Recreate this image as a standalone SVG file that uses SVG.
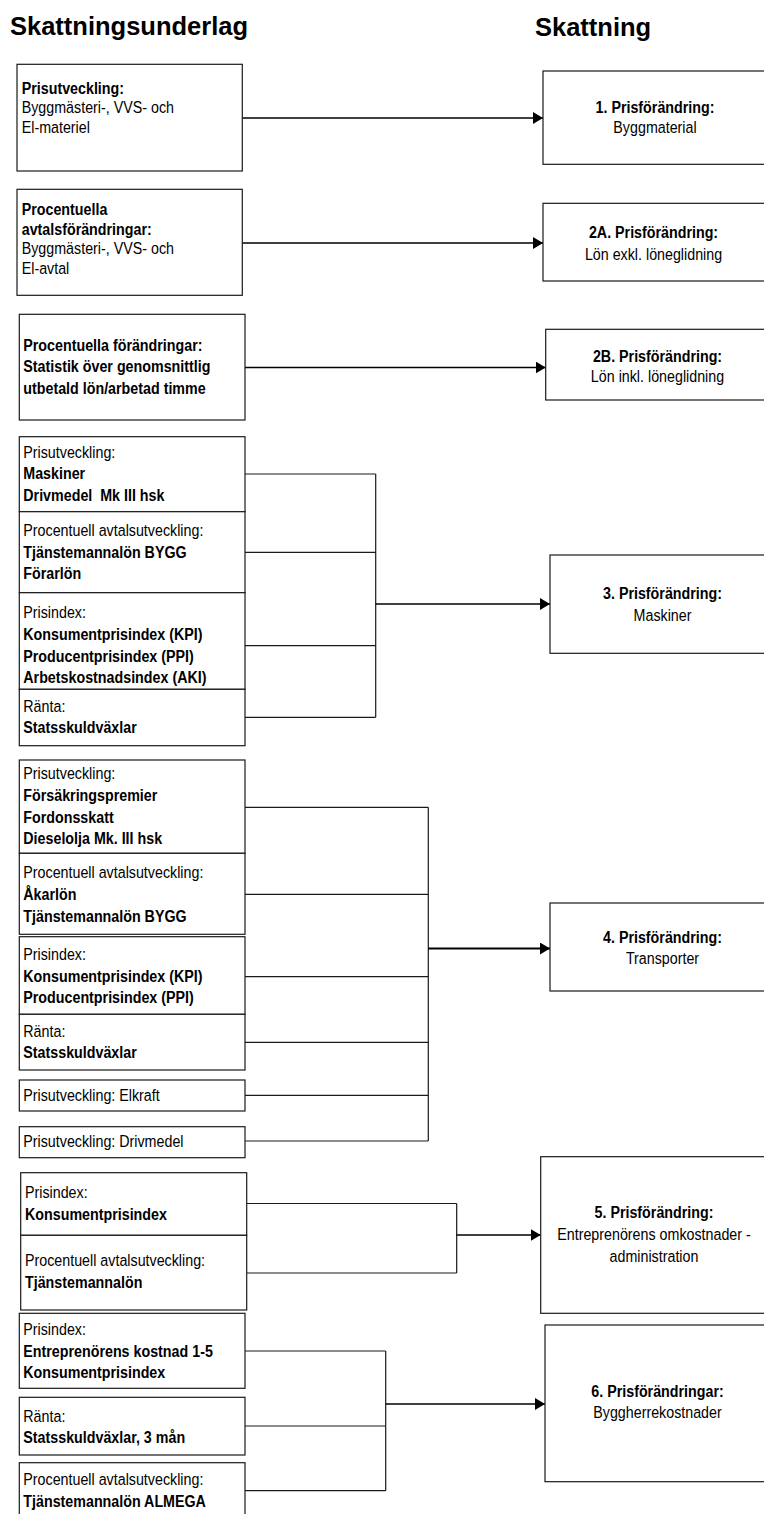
<svg xmlns="http://www.w3.org/2000/svg" width="764" height="1514" viewBox="0 0 764 1514">
<style>
.bg{fill:#fff}
.box{fill:#fff;stroke:#1a1a1a;stroke-width:1.2}
.t{font-family:"Liberation Sans",Arial,sans-serif;font-size:17px;fill:#000}
.b{font-weight:bold}
.c{text-anchor:middle}
.h{font-family:"Liberation Sans",Arial,sans-serif;font-size:25.5px;font-weight:bold;fill:#000}
.ln{fill:none;stroke:#1a1a1a;stroke-width:1.2}
.out{fill:none;stroke:#000;stroke-width:1.6}
</style>
<defs>
<marker id="ah" markerUnits="userSpaceOnUse" markerWidth="11" markerHeight="12" refX="10" refY="6" orient="auto">
<path d="M0,0 L10,6 L0,12 z" fill="#000"/>
</marker>
</defs>
<rect class="bg" x="0" y="0" width="764" height="1514"/>
<g id="titles">
<text class="h" x="10" y="34.5">Skattningsunderlag</text>
<text class="h" x="535" y="35.5">Skattning</text>
</g>

<g id="connectors">
<path class="out" d="M242,118 H543" marker-end="url(#ah)"/>
<path class="out" d="M242,243 H543" marker-end="url(#ah)"/>
<path class="out" d="M245,367.5 H545.7" marker-end="url(#ah)"/>
<path class="ln" d="M245,474 H375.7 M245,552.3 H375.7 M245,645.7 H375.7 M245,717.3 H375.7 M375.7,474 V717.3"/>
<path class="out" d="M375.7,604 H550" marker-end="url(#ah)"/>
<path class="ln" d="M245,807.3 H428.3 M245,894.3 H428.3 M245,976.7 H428.3 M245,1042.3 H428.3 M245,1095.3 H428.3 M245,1141 H428.3 M428.3,807.3 V1141"/>
<path class="out" style="stroke-width:2" d="M428.3,948.5 H550" marker-end="url(#ah)"/>
<path class="ln" d="M246.7,1203.5 H456.7 M246.7,1273 H456.7 M456.7,1203.5 V1273"/>
<path class="out" d="M456.7,1235 H540.7" marker-end="url(#ah)"/>
<path class="ln" d="M245,1351 H385.7 M245,1426 H385.7 M245,1490.7 H385.7 M385.7,1351 V1490.7"/>
<path class="out" d="M385.7,1404 H545" marker-end="url(#ah)"/>
</g>

<g id="src1">
<rect class="box" x="17" y="64.3" width="225.3" height="106.7"/>
<text class="t" transform="translate(21.7,94) scale(0.84,1)"><tspan class="b" x="0" y="0">Prisutveckling:</tspan><tspan x="0" y="19.5">Byggmästeri-, VVS- och</tspan><tspan x="0" y="39">El-materiel</tspan></text>
</g>
<g id="src2">
<rect class="box" x="17" y="189.3" width="225.3" height="106"/>
<text class="t" transform="translate(21.7,215) scale(0.84,1)"><tspan class="b" x="0" y="0">Procentuella</tspan><tspan class="b" x="0" y="19.7">avtalsförändringar:</tspan><tspan x="0" y="39.4">Byggmästeri-, VVS- och</tspan><tspan x="0" y="59">El-avtal</tspan></text>
</g>
<g id="src2b">
<rect class="box" x="19.3" y="314.3" width="225.7" height="105.7"/>
<text class="t b" transform="translate(23.3,350.7) scale(0.84,1)"><tspan x="0" y="0">Procentuella förändringar:</tspan><tspan x="0" y="21.8">Statistik över genomsnittlig</tspan><tspan x="0" y="43.6">utbetald lön/arbetad timme</tspan></text>
</g>

<g id="src3">
<rect class="box" x="19.3" y="436.7" width="225.7" height="75"/>
<rect class="box" x="19.3" y="511.7" width="225.7" height="81"/>
<rect class="box" x="19.3" y="592.7" width="225.7" height="96.6"/>
<rect class="box" x="19.3" y="689.3" width="225.7" height="56.4"/>
<text class="t" xml:space="preserve" transform="translate(23.3,457.7) scale(0.84,1)"><tspan x="0" y="0">Prisutveckling:</tspan><tspan class="b" x="0" y="21.8">Maskiner</tspan><tspan class="b" x="0" y="43.6">Drivmedel  Mk III hsk</tspan></text>
<text class="t" transform="translate(23.3,536) scale(0.84,1)"><tspan x="0" y="0">Procentuell avtalsutveckling:</tspan><tspan class="b" x="0" y="21.7">Tjänstemannalön BYGG</tspan><tspan class="b" x="0" y="43.4">Förarlön</tspan></text>
<text class="t" transform="translate(23.3,618.3) scale(0.84,1)"><tspan x="0" y="0">Prisindex:</tspan><tspan class="b" x="0" y="21.7">Konsumentprisindex (KPI)</tspan><tspan class="b" x="0" y="43.4">Producentprisindex (PPI)</tspan><tspan class="b" x="0" y="65.1">Arbetskostnadsindex (AKI)</tspan></text>
<text class="t" transform="translate(23.3,711.7) scale(0.84,1)"><tspan x="0" y="0">Ränta:</tspan><tspan class="b" x="0" y="21.7">Statsskuldväxlar</tspan></text>
</g>

<g id="src4">
<rect class="box" x="19.3" y="760" width="225.7" height="93.3"/>
<rect class="box" x="19.3" y="853.3" width="225.7" height="81"/>
<rect class="box" x="19.3" y="936.7" width="225.7" height="77.6"/>
<rect class="box" x="19.3" y="1014.3" width="225.7" height="55.7"/>
<rect class="box" x="19.3" y="1080" width="225.7" height="31"/>
<rect class="box" x="19.3" y="1126.7" width="225.7" height="31"/>
<text class="t" transform="translate(23.3,779.3) scale(0.84,1)"><tspan x="0" y="0">Prisutveckling:</tspan><tspan class="b" x="0" y="21.7">Försäkringspremier</tspan><tspan class="b" x="0" y="43.4">Fordonsskatt</tspan><tspan class="b" x="0" y="65.1">Dieselolja Mk. III hsk</tspan></text>
<text class="t" transform="translate(23.3,878.3) scale(0.84,1)"><tspan x="0" y="0">Procentuell avtalsutveckling:</tspan><tspan class="b" x="0" y="21.7">Åkarlön</tspan><tspan class="b" x="0" y="43.4">Tjänstemannalön BYGG</tspan></text>
<text class="t" transform="translate(23.3,960) scale(0.84,1)"><tspan x="0" y="0">Prisindex:</tspan><tspan class="b" x="0" y="21.7">Konsumentprisindex (KPI)</tspan><tspan class="b" x="0" y="43.4">Producentprisindex (PPI)</tspan></text>
<text class="t" transform="translate(23.3,1037.3) scale(0.84,1)"><tspan x="0" y="0">Ränta:</tspan><tspan class="b" x="0" y="21.2">Statsskuldväxlar</tspan></text>
<text class="t" transform="translate(23.3,1100.7) scale(0.84,1)">Prisutveckling: Elkraft</text>
<text class="t" transform="translate(23.3,1147.3) scale(0.84,1)">Prisutveckling: Drivmedel</text>
</g>

<g id="src5">
<rect class="box" x="20.7" y="1172.7" width="226" height="62.6"/>
<rect class="box" x="20.7" y="1235.3" width="226" height="74.7"/>
<text class="t" transform="translate(25,1198.3) scale(0.84,1)"><tspan x="0" y="0">Prisindex:</tspan><tspan class="b" x="0" y="21.7">Konsumentprisindex</tspan></text>
<text class="t" transform="translate(25,1266) scale(0.84,1)"><tspan x="0" y="0">Procentuell avtalsutveckling:</tspan><tspan class="b" x="0" y="21.7">Tjänstemannalön</tspan></text>
</g>

<g id="src6">
<rect class="box" x="19.3" y="1313.3" width="225.7" height="75"/>
<rect class="box" x="19.3" y="1397.3" width="225.7" height="57.7"/>
<rect class="box" x="19.3" y="1462.7" width="225.7" height="60"/>
<text class="t" transform="translate(23.3,1335) scale(0.84,1)"><tspan x="0" y="0">Prisindex:</tspan><tspan class="b" x="0" y="21.7">Entreprenörens kostnad 1-5</tspan><tspan class="b" x="0" y="43.4">Konsumentprisindex</tspan></text>
<text class="t" transform="translate(23.3,1421.7) scale(0.84,1)"><tspan x="0" y="0">Ränta:</tspan><tspan class="b" x="0" y="21">Statsskuldväxlar, 3 mån</tspan></text>
<text class="t" transform="translate(23.3,1485) scale(0.84,1)"><tspan x="0" y="0">Procentuell avtalsutveckling:</tspan><tspan class="b" x="0" y="21.7">Tjänstemannalön ALMEGA</tspan></text>
</g>

<g id="est1">
<rect class="box" x="543" y="71" width="240" height="93.3"/>
<text class="t c" transform="translate(655,113) scale(0.84,1)"><tspan class="b" x="0" y="0">1. Prisförändring:</tspan><tspan x="0" y="20.3">Byggmaterial</tspan></text>
</g>
<g id="est2a">
<rect class="box" x="543" y="203.3" width="240" height="77.7"/>
<text class="t c" transform="translate(653.5,238.3) scale(0.84,1)"><tspan class="b" x="0" y="0">2A. Prisförändring:</tspan><tspan x="0" y="21.7">Lön exkl. löneglidning</tspan></text>
</g>
<g id="est2b">
<rect class="box" x="545.7" y="329.3" width="240" height="70.7"/>
<text class="t c" transform="translate(657.5,361.7) scale(0.84,1)"><tspan class="b" x="0" y="0">2B. Prisförändring:</tspan><tspan x="0" y="20.5">Lön inkl. löneglidning</tspan></text>
</g>
<g id="est3">
<rect class="box" x="550" y="555" width="240" height="98.3"/>
<text class="t c" transform="translate(662.5,599.3) scale(0.84,1)"><tspan class="b" x="0" y="0">3. Prisförändring:</tspan><tspan x="0" y="21.7">Maskiner</tspan></text>
</g>
<g id="est4">
<rect class="box" x="550" y="903" width="240" height="88"/>
<text class="t c" transform="translate(662.5,943.3) scale(0.84,1)"><tspan class="b" x="0" y="0">4. Prisförändring:</tspan><tspan x="0" y="20.7">Transporter</tspan></text>
</g>
<g id="est5">
<rect class="box" x="540.7" y="1156.7" width="240" height="156.6"/>
<text class="t c" transform="translate(654,1218.3) scale(0.84,1)"><tspan class="b" x="0" y="0">5. Prisförändring:</tspan><tspan x="0" y="21.7">Entreprenörens omkostnader -</tspan><tspan x="0" y="43.4">administration</tspan></text>
</g>
<g id="est6">
<rect class="box" x="545" y="1325" width="240" height="156.7"/>
<text class="t c" transform="translate(657.5,1396.7) scale(0.84,1)"><tspan class="b" x="0" y="0">6. Prisförändringar:</tspan><tspan x="0" y="21.6">Byggherrekostnader</tspan></text>
</g>
</svg>
